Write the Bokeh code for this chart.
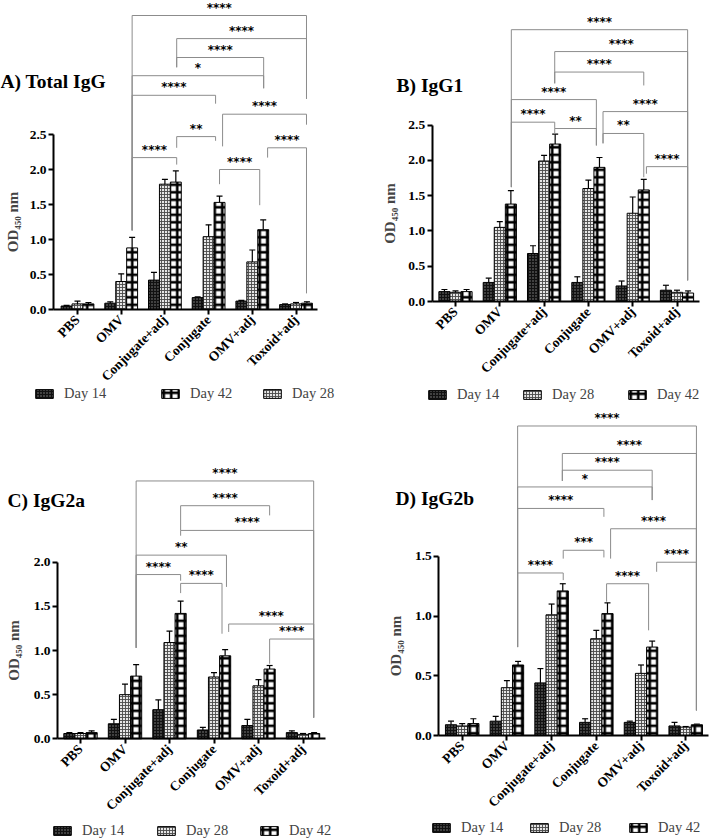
import math
from bokeh.plotting import figure
from bokeh.layouts import row, column
from bokeh.models import (Range1d, FixedTicker, ColumnDataSource, Whisker, TeeHead,
                          Legend, LegendItem, Label, NumeralTickFormatter)
from bokeh.core.properties import value
from bokeh.embed import file_html
from bokeh.resources import INLINE

CATS = ["PBS", "OMV", "Conjugate+adj", "Conjugate", "OMV+adj", "Toxoid+adj"]
DAYS = ["Day 14", "Day 28", "Day 42"]

# ---- Panel A: Total IgG (mean, error) ----
A_D14 = [0.05, 0.09, 0.42, 0.17, 0.12, 0.07]
A_E14 = [0.01, 0.02, 0.11, 0.01, 0.01, 0.01]
A_D28 = [0.08, 0.40, 1.79, 1.04, 0.68, 0.08]
A_E28 = [0.04, 0.11, 0.07, 0.17, 0.17, 0.02]
A_D42 = [0.08, 0.88, 1.82, 1.53, 1.14, 0.09]
A_E42 = [0.02, 0.15, 0.16, 0.09, 0.14, 0.02]
A_YTICKS = [0.0, 0.5, 1.0, 1.5, 2.0, 2.5]
# bracket: (x left, x right, y line, y end left leg, y end right leg, stars)
A_BRACKETS = [
    (1.25, 5.24, 4.20, 1.13, 3.01, "****"),
    (2.27, 5.24, 3.87, 3.46, 3.01, "****"),
    (2.27, 4.26, 3.60, 3.46, 3.16, "****"),
    (1.25, 4.26, 3.34, 1.13, 3.16, "*"),
    (1.25, 3.16, 3.06, 1.13, 2.94, "****"),
    (3.32, 5.24, 2.79, 2.33, 2.64, "****"),
    (2.27, 3.16, 2.47, 2.31, 2.41, "**"),
    (4.35, 5.24, 2.31, 2.17, 0.23, "****"),
    (1.25, 2.27, 2.17, 1.13, 2.07, "****"),
    (3.25, 4.17, 2.00, 1.79, 1.49, "****"),
]

# ---- Panel B: IgG1 ----
B_D14 = [0.14, 0.27, 0.68, 0.27, 0.22, 0.16]
B_E14 = [0.03, 0.06, 0.11, 0.08, 0.07, 0.07]
B_D28 = [0.13, 1.05, 1.99, 1.60, 1.25, 0.13]
B_E28 = [0.02, 0.08, 0.08, 0.12, 0.23, 0.03]
B_D42 = [0.14, 1.38, 2.23, 1.90, 1.58, 0.12]
B_E42 = [0.03, 0.19, 0.14, 0.14, 0.15, 0.03]
B_YTICKS = [0.0, 0.5, 1.0, 1.5, 2.0, 2.5]
B_BRACKETS = [
    (1.26, 5.24, 3.85, 1.62, 0.30, "****"),
    (2.24, 5.24, 3.54, 3.09, 0.30, "****"),
    (2.24, 4.25, 3.25, 3.09, 3.06, "****"),
    (1.26, 3.18, 2.86, 1.62, 2.21, "****"),
    (3.33, 5.24, 2.69, 2.24, 0.30, "****"),
    (1.26, 2.24, 2.54, 1.62, 2.45, "****"),
    (2.24, 3.18, 2.45, 2.37, 2.21, "**"),
    (3.33, 4.25, 2.38, 2.24, 1.76, "**"),
    (4.31, 5.24, 1.91, 1.81, 0.30, "****"),
]

# ---- Panel C: IgG2a ----
C_D14 = [0.06, 0.17, 0.33, 0.10, 0.15, 0.07]
C_E14 = [0.01, 0.05, 0.11, 0.03, 0.07, 0.02]
C_D28 = [0.06, 0.50, 1.09, 0.70, 0.60, 0.05]
C_E28 = [0.01, 0.12, 0.13, 0.05, 0.07, 0.01]
C_D42 = [0.07, 0.71, 1.42, 0.94, 0.79, 0.06]
C_E42 = [0.02, 0.13, 0.14, 0.07, 0.04, 0.01]
C_YTICKS = [0.0, 0.5, 1.0, 1.5, 2.0]
C_BRACKETS = [
    (1.25, 5.24, 2.92, 1.03, 0.24, "****"),
    (2.25, 4.25, 2.64, 2.36, 2.53, "****"),
    (2.25, 5.24, 2.36, 2.30, 0.24, "****"),
    (1.25, 3.28, 2.08, 1.03, 1.72, "**"),
    (1.25, 2.25, 1.86, 1.03, 1.79, "****"),
    (2.25, 3.18, 1.76, 1.65, 1.19, "****"),
    (3.33, 5.24, 1.30, 1.21, 0.24, "****"),
    (4.25, 5.24, 1.13, 0.85, 0.24, "****"),
]

# ---- Panel D: IgG2b ----
D_D14 = [0.09, 0.12, 0.44, 0.11, 0.11, 0.08]
D_E14 = [0.03, 0.04, 0.12, 0.03, 0.01, 0.03]
D_D28 = [0.08, 0.40, 1.01, 0.81, 0.52, 0.07]
D_E28 = [0.02, 0.06, 0.09, 0.07, 0.07, 0.005]
D_D42 = [0.10, 0.59, 1.21, 1.02, 0.74, 0.09]
D_E42 = [0.04, 0.03, 0.06, 0.09, 0.05, 0.005]
D_YTICKS = [0.0, 0.5, 1.0, 1.5]
D_BRACKETS = [
    (1.24, 5.24, 2.59, 0.74, 0.21, "****"),
    (2.24, 5.24, 2.36, 2.13, 0.21, "****"),
    (2.24, 4.25, 2.22, 2.13, 1.97, "****"),
    (1.24, 4.25, 2.08, 0.74, 1.97, "*"),
    (1.24, 3.17, 1.90, 0.74, 1.83, "****"),
    (3.32, 5.24, 1.73, 1.48, 0.21, "****"),
    (2.26, 3.17, 1.55, 1.48, 1.49, "***"),
    (4.35, 5.24, 1.45, 1.37, 0.21, "****"),
    (1.24, 2.26, 1.36, 0.74, 1.30, "****"),
    (3.23, 4.17, 1.27, 1.12, 0.88, "****"),
]


def style(day):
    if day == "Day 14":
        return dict(fill_color="#111111", hatch_pattern="dot", hatch_color="#8a8a8a",
                    hatch_scale=3, hatch_weight=1)
    if day == "Day 28":
        return dict(fill_color="#e6e6e6", hatch_pattern="cross", hatch_color="#4a4a4a",
                    hatch_scale=3, hatch_weight=0.9)
    return dict(fill_color="white", hatch_pattern="cross", hatch_color="black",
                hatch_scale=7.5, hatch_weight=2.6)


SERIF = "Liberation Serif"


def make_panel(title, g, d14, e14, d28, e28, d42, e42, yticks, brackets,
               legend_order, legend_x, legend_y, title_xy, label_standoff):
    # g: width, height, y-axis px, x-axis right end px, x-axis px (y=0),
    #    px of first group, px per group, px per unit
    W, H, ax_l, ax_r, fb, x0, xpu, ypu = g
    xdat = lambda px: (px - x0) / xpu
    ydat = lambda py: (fb - py) / ypu
    p = figure(width=W, height=H, x_range=Range1d(xdat(0), xdat(W)),
               y_range=Range1d(ydat(H), ydat(0)),
               output_backend="svg", toolbar_location=None, title=None,
               min_border=0, min_border_left=0, min_border_right=0,
               min_border_top=0, min_border_bottom=0)
    p.outline_line_color = None
    p.xgrid.visible = False
    p.ygrid.visible = False

    for ax in (p.xaxis[0], p.yaxis[0]):
        ax.axis_line_width = 2
        ax.axis_line_color = "black"
        ax.major_tick_line_width = 2
        ax.major_tick_line_color = "black"
        ax.major_tick_in = 0
        ax.major_tick_out = 5
        ax.minor_tick_in = 0
        ax.minor_tick_out = 0
        ax.major_label_text_font = SERIF
        ax.major_label_text_font_style = "bold"
        ax.major_label_text_color = "black"
        ax.major_label_standoff = 2
    p.xaxis.fixed_location = 0
    p.xaxis.bounds = (xdat(ax_l), xdat(ax_r))
    p.xaxis.ticker = FixedTicker(ticks=list(range(len(CATS))))
    p.xaxis.major_label_overrides = {i: c for i, c in enumerate(CATS)}
    p.xaxis.major_label_orientation = math.pi / 4
    p.xaxis.major_label_text_font_size = "13.5px"
    p.xaxis.major_label_standoff = 3
    p.yaxis.fixed_location = xdat(ax_l)
    p.yaxis.ticker = FixedTicker(ticks=yticks)
    p.yaxis.formatter = NumeralTickFormatter(format="0.0")
    p.yaxis.bounds = (0, yticks[-1])
    p.yaxis.major_label_text_font_size = "13.5px"
    p.yaxis.axis_label = "OD\u2084\u2085\u2080 nm"
    p.yaxis.axis_label_text_font = SERIF
    p.yaxis.axis_label_text_font_style = "bold"
    p.yaxis.axis_label_text_font_size = "15px"
    p.yaxis.axis_label_standoff = label_standoff

    offs = [-0.25, 0.0, 0.25]
    rends = {}
    for k, (day, vals, errs) in enumerate(zip(DAYS, [d14, d28, d42], [e14, e28, e42])):
        src = ColumnDataSource(dict(x=[i + offs[k] for i in range(len(CATS))], top=vals,
                                    upper=[v + e for v, e in zip(vals, errs)]))
        r = p.vbar(x="x", top="top", width=0.25, source=src, line_color="black",
                   line_width=1, **style(day))
        p.add_layout(Whisker(source=src, base="x", lower="top", upper="upper",
                             dimension="height", line_color="black", line_width=1.2,
                             upper_head=TeeHead(size=6, line_color="black", line_width=1.2),
                             lower_head=None))
        rends[day] = r

    bx, by, tx, ty, tt = [], [], [], [], []
    for (xl, xr, y, yl, yr, s) in brackets:
        bx.append([xl, xl, xr, xr])
        by.append([yl, y, y, yr])
        tx.append((xl + xr) / 2)
        ty.append(y)
        tt.append(s)
    p.multi_line(xs=bx, ys=by, line_color="#8c8c8c", line_width=1)
    p.text(x=tx, y=ty, text=tt, text_font=value("DejaVu Sans"), text_font_style=value("bold"),
           text_font_size=value("12px"), text_align=value("center"),
           text_baseline=value("middle"), y_offset=-8, text_color="black")

    tx_px, ty_px = title_xy
    p.add_layout(Label(x=xdat(tx_px), y=ydat(ty_px), text=title,
                       text_font=SERIF, text_font_style="bold", text_font_size="19.5px",
                       text_align="left", text_baseline="middle", text_color="black"))

    for day, lx in zip(legend_order, legend_x):
        leg = Legend(items=[LegendItem(label=day, renderers=[rends[day]])],
                     location=(lx - 2, H - legend_y - 10),
                     orientation="horizontal", padding=0, margin=0, spacing=0,
                     glyph_width=22, glyph_height=11, label_standoff=9,
                     label_text_font=SERIF, label_text_font_size="14.5px",
                     background_fill_alpha=0, border_line_alpha=0)
        p.add_layout(leg)
    return p


pA = make_panel("A) Total IgG", (360, 406, 53, 317, 309, 77, 43.7, 70.0),
                A_D14, A_E14, A_D28, A_E28, A_D42, A_E42, A_YTICKS, A_BRACKETS,
                ["Day 14", "Day 42", "Day 28"], [35, 161, 263], 392, (0, 81), 6)
pB = make_panel("B) IgG1", (349, 406, 71.7, 339, 301, 95, 44.3, 70.6),
                B_D14, B_E14, B_D28, B_E28, B_D42, B_E42, B_YTICKS, B_BRACKETS,
                ["Day 14", "Day 28", "Day 42"], [68, 163, 268], 393, (36, 85), 8)
pC = make_panel("C) IgG2a", (360, 432, 57, 325, 332.3, 80, 44.5, 88.3),
                C_D14, C_E14, C_D28, C_E28, C_D42, C_E42, C_YTICKS, C_BRACKETS,
                ["Day 14", "Day 28", "Day 42"], [53, 157, 260], 423, (7, 94), 9)
pD = make_panel("D) IgG2b", (349, 432, 78.3, 348, 329, 101.7, 44.7, 119.5),
                D_D14, D_E14, D_D28, D_E28, D_D42, D_E42, D_YTICKS, D_BRACKETS,
                ["Day 14", "Day 28", "Day 42"], [72, 170, 269], 420, (35, 92), 8)

layout = column(row(pA, pB), row(pC, pD))
open("out.html", "w").write(file_html(layout, INLINE))
